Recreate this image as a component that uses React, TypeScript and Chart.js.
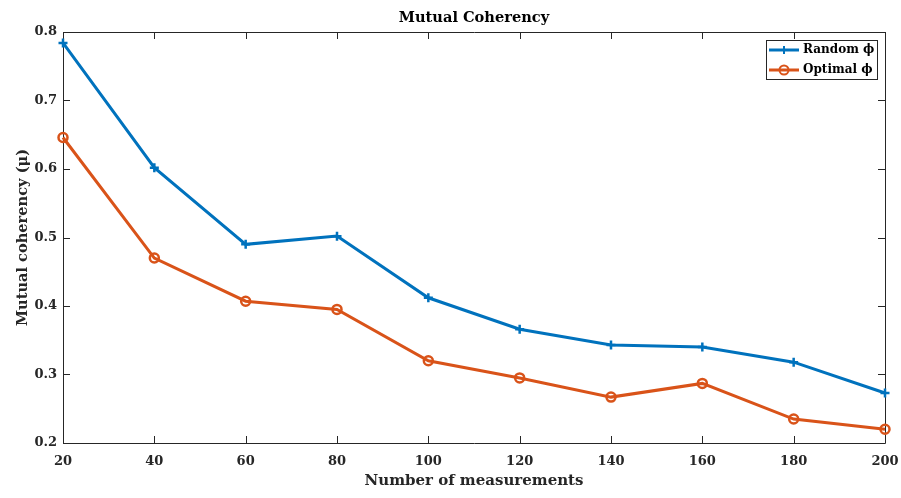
import React, { useEffect, useRef } from "react";
import { Chart, registerables } from "chart.js";

Chart.register(...registerables);

const measurements = [20, 40, 60, 80, 100, 120, 140, 160, 180, 200];
const randomPhi = [0.784, 0.602, 0.49, 0.502, 0.412, 0.366, 0.343, 0.34, 0.318, 0.273];
const optimalPhi = [0.646, 0.47, 0.407, 0.395, 0.32, 0.295, 0.267, 0.287, 0.235, 0.22];
const seriesLabels = ["Random \u03d5", "Optimal \u03d5"];
const chartTitle = "Mutual Coherency";
const xTitle = "Number of measurements";
const yTitle = "Mutual coherency (\u03bc)";

const BLUE = "#0072BD";
const ORANGE = "#D95319";
const AXIS = "#262626";
const FONT = "'DejaVu Serif', serif";

const framePlugin = {
  id: "matlabFrame",
  beforeDatasetsDraw(chart: any) {
    const { ctx, chartArea } = chart;
    const { left, right, top, bottom } = chartArea;
    const xs = chart.scales.x;
    const ys = chart.scales.y;
    ctx.save();
    ctx.strokeStyle = AXIS;
    ctx.lineWidth = 1;
    ctx.beginPath();
    ctx.rect(Math.round(left) + 0.5, Math.round(top) + 0.5, Math.round(right - left), Math.round(bottom - top));
    ctx.stroke();
    const tl = 7;
    ctx.beginPath();
    xs.ticks.forEach((t: any) => {
      const px = Math.round(xs.getPixelForValue(t.value)) + 0.5;
      ctx.moveTo(px, bottom);
      ctx.lineTo(px, bottom - tl);
      ctx.moveTo(px, top);
      ctx.lineTo(px, top + tl);
    });
    ys.ticks.forEach((t: any) => {
      const py = Math.round(ys.getPixelForValue(t.value)) + 0.5;
      ctx.moveTo(left, py);
      ctx.lineTo(left + tl, py);
      ctx.moveTo(right, py);
      ctx.lineTo(right - tl, py);
    });
    ctx.stroke();
    ctx.restore();
  },
  afterDraw(chart: any) {
    const { ctx, chartArea } = chart;
    const { left, right, top, bottom } = chartArea;
    ctx.save();
    ctx.fillStyle = "#000";
    ctx.textAlign = "center";
    ctx.textBaseline = "middle";
    ctx.font = `bold 14.6px ${FONT}`;
    ctx.fillText(chartTitle, (left + right) / 2, 18);
    ctx.fillStyle = AXIS;
    ctx.font = `bold 15px ${FONT}`;
    ctx.fillText(xTitle, (left + right) / 2, 481);
    ctx.save();
    ctx.translate(23, (top + bottom) / 2);
    ctx.rotate(-Math.PI / 2);
    ctx.font = `bold 14.6px ${FONT}`;
    ctx.fillText(yTitle, 0, 0);
    ctx.restore();

    // legend
    const bx = 766, by = 40, bw = 111, bh = 39;
    ctx.fillStyle = "#fff";
    ctx.fillRect(bx, by, bw, bh);
    ctx.strokeStyle = AXIS;
    ctx.lineWidth = 1;
    ctx.strokeRect(bx + 0.5, by + 0.5, bw, bh);
    const ds = chart.data.datasets;
    const rows = [50, 70];
    ds.forEach((d: any, i: number) => {
      const y = rows[i];
      ctx.strokeStyle = d.borderColor;
      ctx.lineWidth = 3;
      ctx.beginPath();
      ctx.moveTo(769, y);
      ctx.lineTo(799, y);
      ctx.stroke();
      ctx.lineWidth = 2;
      if (d.pointStyle === "cross") {
        ctx.beginPath();
        ctx.moveTo(784 - 4, y);
        ctx.lineTo(784 + 4, y);
        ctx.moveTo(784, y - 4);
        ctx.lineTo(784, y + 4);
        ctx.stroke();
      } else {
        ctx.beginPath();
        ctx.arc(784, y, 4.5, 0, Math.PI * 2);
        ctx.stroke();
      }
      ctx.fillStyle = "#000";
      ctx.textAlign = "left";
      ctx.font = `bold 12px ${FONT}`;
      ctx.fillText(d.label, 803, y);
    });
    ctx.restore();
  },
};

export default function App() {
  const ref = useRef<HTMLCanvasElement>(null);
  useEffect(() => {
    if (!ref.current) return;
    const chart = new Chart(ref.current, {
      type: "line",
      data: {
        datasets: [
          {
            label: seriesLabels[0],
            data: measurements.map((x, i) => ({ x, y: randomPhi[i] })),
            borderColor: BLUE,
            backgroundColor: BLUE,
            borderWidth: 3,
            pointStyle: "cross",
            pointRadius: 4.5,
            pointBorderWidth: 2.5,
            pointBorderColor: BLUE,
            clip: false as any,
          },
          {
            label: seriesLabels[1],
            data: measurements.map((x, i) => ({ x, y: optimalPhi[i] })),
            borderColor: ORANGE,
            backgroundColor: "rgba(0,0,0,0)",
            borderWidth: 3,
            pointStyle: "circle",
            pointRadius: 4.5,
            pointBorderWidth: 2.5,
            pointBorderColor: ORANGE,
            pointBackgroundColor: "rgba(0,0,0,0)",
            clip: false as any,
          },
        ],
      },
      options: {
        animation: false,
        responsive: false,
        layout: { padding: { top: 32, right: 16, left: 0, bottom: 0 } },
        plugins: { legend: { display: false }, title: { display: false }, tooltip: { enabled: false } },
        scales: {
          x: {
            type: "linear",
            min: 20,
            max: 200,
            grid: { display: false, drawTicks: true, tickLength: 9 },
            border: { display: false },
            ticks: {
              stepSize: 20,
              color: AXIS,
              font: { family: FONT, size: 13, weight: "bold" },
              padding: 2,
              maxRotation: 0,
            },
            afterFit: (s: any) => {
              s.height = 55;
            },
          },
          y: {
            min: 0.2,
            max: 0.8,
            grid: { display: false, drawTicks: false },
            border: { display: false },
            ticks: {
              stepSize: 0.1,
              color: AXIS,
              font: { family: FONT, size: 13, weight: "bold" },
              padding: 6,
              callback: (v: any) => Number(v).toFixed(1),
            },
            afterFit: (s: any) => {
              s.width = 63;
            },
          },
        },
      },
      plugins: [framePlugin],
    });
    return () => chart.destroy();
  }, []);
  return (
    <div style={{ position: "absolute", left: 0, top: 0, width: 901, height: 498, background: "#fff" }}>
      <canvas ref={ref} width={901} height={498} style={{ display: "block" }} />
    </div>
  );
}
